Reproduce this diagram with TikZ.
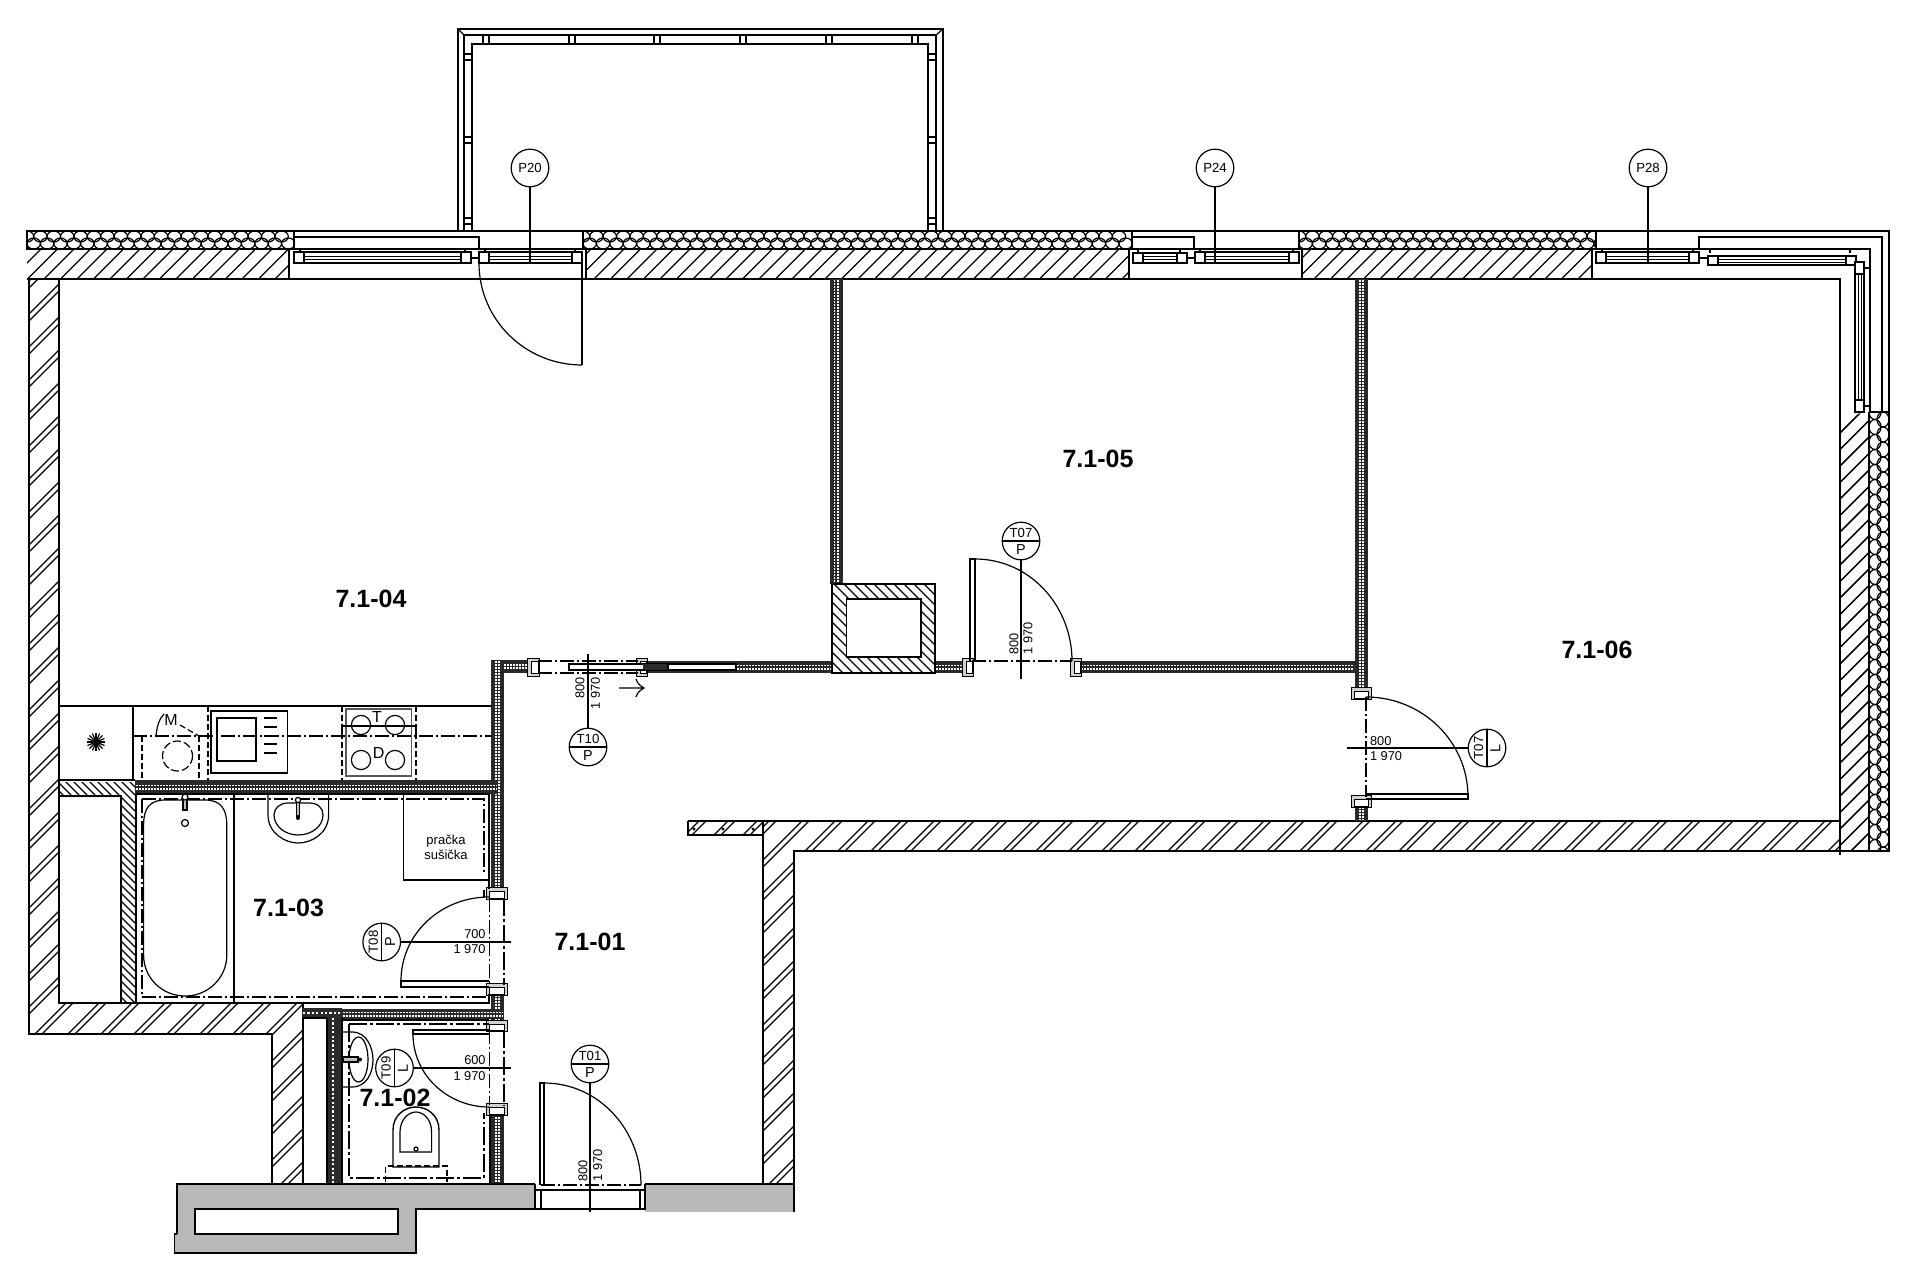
\documentclass[tikz,border=0pt]{standalone}
\usepackage{fontspec}
\setmainfont{Liberation Sans}
\definecolor{corr}{HTML}{B8B8B8}
\definecolor{band}{HTML}{2A2A2A}
\tikzset{
 wl/.style={line width=0.9pt,black},
 ml/.style={line width=0.7pt,black},
 tl/.style={line width=0.6pt,black},
 hl/.style={line width=0.6pt,black},
 dd/.style={line width=0.55pt,black,dash pattern=on 7pt off 1.5pt on 1pt off 1.5pt},
 ddk/.style={line width=0.7pt,black,dash pattern=on 9pt off 1.5pt on 1.4pt off 1.5pt},
 dsh/.style={line width=0.6pt,black,dash pattern=on 3pt off 1.5pt},
 roomlabel/.style={font=\bfseries\fontsize{12.5}{14}\selectfont,inner sep=0pt},
 small/.style={font=\fontsize{6.4}{7.5}\selectfont,inner sep=0pt},
 tagc/.style={circle,draw,line width=0.6pt,minimum size=18.8pt,inner sep=0pt,fill=white,font=\fontsize{6.6}{7}\selectfont},
 letter/.style={font=\fontsize{7.2}{8}\selectfont,inner sep=0pt},
}
% hatch "/" : clip path, first c, last c, period, gap (0 = single)
\newcommand\hatchF[5]{\begin{scope}\clip #1;\pgfmathsetmacro\hB{#2+#4}
 \foreach \c in {#2,\hB,...,#3}{\draw[hl] (\c,0)--(\c-1300,1300);\draw[hl] (\c+#5,0)--(\c+#5-1300,1300);}\end{scope}}
% hatch "\"
\newcommand\hatchB[4]{\begin{scope}\clip #1;\pgfmathsetmacro\hB{#2+#4}
 \foreach \c in {#2,\hB,...,#3}{\draw[hl] (\c,0)--(\c+1300,1300);}\end{scope}}
% insulation, horizontal band
\newcommand\insH[4]{\begin{scope}\clip (#1,#3) rectangle (#2,#4);\fill[white] (#1,#3) rectangle (#2,#4);
 \pgfmathsetmacro\hq{(#4-#3)/4}\pgfmathsetmacro\xB{#1+13.4}
 \foreach \x in {#1,\xB,...,#2}{\draw[line width=0.6pt] (\x,#3+\hq+1) ellipse [x radius=6.7,y radius=\hq+1];
 \draw[line width=0.6pt] (\x+6.7,#4-\hq-1) ellipse [x radius=6.7,y radius=\hq+1];}\end{scope}
 \draw[tl] (#1,#3) rectangle (#2,#4);}
% insulation, vertical band
\newcommand\insV[4]{\begin{scope}\clip (#1,#3) rectangle (#2,#4);\fill[white] (#1,#3) rectangle (#2,#4);
 \pgfmathsetmacro\hq{(#2-#1)/4}\pgfmathsetmacro\yB{#3+15}
 \foreach \y in {#3,\yB,...,#4}{\draw[line width=0.6pt] (#1+\hq+1,\y) ellipse [y radius=7.5,x radius=\hq+1];
 \draw[line width=0.6pt] (#2-\hq-1,\y+7.5) ellipse [y radius=7.5,x radius=\hq+1];}\end{scope}
 \draw[wl] (#1,#3)--(#1,#4) (#2,#3)--(#2,#4);}
% dark partition bands
\newcommand\bandH[4]{\fill[band] (#1,#3) rectangle (#2,#4);
 \pgfmathsetmacro\ym{(#3+#4)/2}
 \draw[white,line width=0.8pt,dash pattern=on 0.8pt off 0.7pt] (#1+1,\ym-1.7)--(#2-1,\ym-1.7);
 \draw[white,line width=0.8pt,dash pattern=on 0.8pt off 0.7pt] (#1+1,\ym+1.7)--(#2-1,\ym+1.7);}
\newcommand\bandV[4]{\fill[band] (#1,#3) rectangle (#2,#4);
 \pgfmathsetmacro\xm{(#1+#2)/2}
 \draw[white,line width=0.8pt,dash pattern=on 0.8pt off 0.7pt] (\xm-1.7,#3+1)--(\xm-1.7,#4-1);
 \draw[white,line width=0.8pt,dash pattern=on 0.8pt off 0.7pt] (\xm+1.7,#3+1)--(\xm+1.7,#4-1);}
% door jambs: on a horizontal wall (x1,x2,y1,y2) and on a vertical wall
\newcommand\jambH[4]{\draw[line width=0.4pt,fill=gray!35] (#1-2,#3-3) rectangle (#2+1,#4+3);\draw[line width=0.4pt,fill=white] (#1+2,#3) rectangle (#2,#4);}
\newcommand\jambV[4]{\draw[line width=0.4pt,fill=gray!35] (#1-3,#3-2) rectangle (#2+3,#4+1);\draw[line width=0.4pt,fill=white] (#1,#3+2) rectangle (#2,#4);}
% window (x1,x2,y1,y2)
\newcommand\winH[4]{\pgfmathsetmacro\ym{(#3+#4)/2}\draw[tl,fill=white] (#1,#3) rectangle (#2,#4);
 \draw[line width=0.45pt] (#1,\ym-1.5)--(#2,\ym-1.5) (#1,\ym+1.5)--(#2,\ym+1.5);
 \draw[tl,fill=white] (#1,#3) rectangle (#1+10,#4);\draw[tl,fill=white] (#2-10,#3) rectangle (#2,#4);}
\newcommand\tagH[5]{\node[tagc] (#1) at (#2,#3) {};\draw[tl] (#1.west)--(#1.east);
 \node[letter,font=\fontsize{6.6}{7}\selectfont] at (#2,#3-8.5) {#4};\node[letter] at (#2,#3+9) {#5};}
\newcommand\tagV[5]{\node[tagc] (#1) at (#2,#3) {};\draw[tl] (#1.north)--(#1.south);
 \node[letter,font=\fontsize{6.6}{7}\selectfont,rotate=90] at (#2-8.5,#3) {#4};\node[letter,rotate=90] at (#2+8.5,#3) {#5};}
\begin{document}
\begin{tikzpicture}[x=0.5pt,y=-0.5pt]
\useasboundingbox (0,0) rectangle (1920,1278);
\fill[white] (0,0) rectangle (1920,1278);

% ---------- balcony
\draw[wl] (458,231)--(458,29)--(943,29)--(943,231);
\draw[wl] (464,231)--(464,35)--(936,35)--(936,231);
\draw[wl] (472,231)--(472,44)--(928,44)--(928,231);
\draw[tl] (458,29)--(464,35) (943,29)--(936,35);
\foreach \x in {483,569,654,740,826,912}{\draw[tl] (\x,35)--(\x,44) (\x+6,35)--(\x+6,44);}
\foreach \y in {54,137,218}{\draw[tl] (464,\y)--(472,\y) (464,\y+6)--(472,\y+6) (928,\y)--(936,\y) (928,\y+6)--(936,\y+6);}

% ---------- outer masonry hatch
\hatchF{(27,249) rectangle (289,279)}{290}{600}{33}{16.5}
\hatchF{(586,249) rectangle (1129,279)}{840}{1420}{33}{16.5}
\hatchF{(1302,249) rectangle (1592,279)}{1560}{1880}{33}{16.5}
\hatchF{(29,279)--(59,279)--(59,1003)--(303,1003)--(303,1184)--(272,1184)--(272,1034)--(29,1034)--cycle}{310}{1490}{33}{7}
\hatchF{(763,821)--(1840,821)--(1840,851)--(794,851)--(794,1184)--(763,1184)--cycle}{1590}{2700}{33}{7}
\hatchF{(688,821) rectangle (763,835)}{1520}{1590}{29}{7}
\hatchF{(1840,417)--(1869,412)--(1869,851)--(1840,851)--cycle}{2240}{2730}{16.5}{0}
\foreach \x in {694,723,753}{\fill (\x,829) circle [radius=1.6];}

% insulation
\insH{27}{294}{231}{249}
\insH{583}{1132}{231}{249}
\insH{1299}{1596}{231}{249}
\insV{1869}{1889}{412}{851}

% wall outlines
\draw[wl] (27,231)--(1889,231)--(1889,851)--(794,851)--(794,1184);
\draw[wl] (27,279)--(1840,279)--(1840,855);
\draw[wl] (27,249)--(294,249) (583,249)--(1132,249) (1299,249)--(1596,249);
\draw[tl] (1596,249)--(1870,249)--(1870,412) (1133,237)--(1194,237)--(1194,249) (294,237)--(479,237)--(479,249);
\draw[wl] (1699,249)--(1699,237)--(1882,237)--(1882,412);
\draw[wl] (1869,412)--(1889,412);
\draw[tl] (289,249)--(289,279) (586,249)--(586,279) (1129,249)--(1129,279) (1302,249)--(1302,279) (1592,249)--(1592,279);
\draw[tl] (294,249)--(582,249) (1133,249)--(1299,249);
\draw[wl] (29,279)--(29,1034)--(272,1034)--(272,1184);
\draw[wl] (59,279)--(59,1003)--(303,1003)--(303,1184);
\draw[wl] (688,821)--(1840,821) (688,821)--(688,835)--(763,835);
\draw[wl] (763,821)--(763,1184);

% ---------- windows
\foreach \x in {300,465,485,575,1138,1180,1200,1293,1602,1693,1710,1850}{\draw[tl] (\x,249)--(\x,253);}
\winH{294}{471}{252}{263}
\winH{479}{582}{252}{263}
\winH{1133}{1187}{253}{263}
\winH{1195}{1299}{252}{263}
\winH{1596}{1699}{252}{263}
\winH{1708}{1856}{256}{265}
\draw[tl] (471,258)--(479,258) (1187,258)--(1195,258) (1699,258)--(1708,258);
% vertical corner window
\draw[tl,fill=white] (1855,265) rectangle (1864,412);
\draw[line width=0.45pt] (1858.5,265)--(1858.5,412) (1861,265)--(1861,412);
\draw[tl,fill=white] (1855,262) rectangle (1864,274);
\draw[tl,fill=white] (1855,400) rectangle (1864,412);
\draw[tl] (1864,268)--(1870,268) (1864,406)--(1870,406);

% door to balcony P20
\draw[dd] (479,279)--(582,279);
\draw[tl] (582,263)--(582,365);
\draw[tl] (479,263) to[out=-90,in=180] (582,365);

% ---------- interior partitions
\bandV{830}{842.5}{279}{584}
\bandV{1355}{1368}{279}{690}
\bandH{491}{532}{660}{673}
\bandV{491}{504}{660}{890}
\bandH{643}{832}{661}{673}
\bandH{935}{963}{661}{673}
\bandH{1080}{1355}{661}{673}
\bandV{1355}{1368}{806}{821}
\bandH{135}{498}{780}{794}
\bandV{491}{504}{994}{1023}
\bandV{491}{504}{1113}{1184}
\bandH{342}{504}{1009}{1019}
\draw[ml] (342,1003)--(489,1003);
% coarse insulation in the WC wall
\fill[band] (302,1008) rectangle (342,1018);
\draw[white,line width=1.3pt,dash pattern=on 1.1pt off 1.1pt] (303,1013)--(342,1013);
\fill[band] (327,1018) rectangle (342,1184);
\draw[white,line width=1.3pt,dash pattern=on 1.1pt off 1.1pt] (333,1018)--(333,1184);
\draw[wl] (302,1018)--(327,1018) (327,1018)--(327,1184);
\draw[wl] (342,1018)--(342,1184);

% chimney
\begin{scope}[even odd rule]
\hatchB{(832,584) rectangle (935,673) (846.5,599) rectangle (921,657)}{150}{360}{10}
\end{scope}
\draw[wl] (832,584) rectangle (935,673);
\draw[tl] (846.5,599) rectangle (921,657);

% jambs
\jambH{529}{538}{661}{673}
\jambH{638}{646}{661}{673}
\jambH{964}{972}{661}{673}
\jambH{1072}{1080}{661}{673}
\jambV{1354}{1368}{689}{698}
\jambV{1354}{1368}{797}{806}
\jambV{489}{504}{889}{898}
\jambV{489}{504}{985}{994}
\jambV{489}{504}{1022}{1030}
\jambV{489}{504}{1105}{1114}

% T10 sliding door
\draw[dd] (538,661)--(638,661) (538,673)--(638,673);
\draw[tl,fill=white] (569,664) rectangle (668,670);
\fill[band] (643,664) rectangle (668,670);
\draw[tl,fill=white] (668,664) rectangle (736,670);
\draw[tl] (619,688)--(644,688) (636,679) .. controls (638,684) .. (644,688) .. controls (638,692) .. (636,697);

% T07 P door
\draw[dd] (972,661)--(1072,661);
\draw[tl] (970,661)--(970,559)--(975,559)--(975,661);
\draw[tl] (975,559) to[out=0,in=90] (1072,661);

% T07 L door
\draw[dd] (1366,697)--(1366,797);
\draw[tl] (1366,794)--(1468,794)--(1468,799)--(1366,799);
\draw[tl] (1366,697) to[out=0,in=90] (1468,797);

% T08 door
\draw[dd] (489.5,898)--(489.5,985);
\draw[ddk] (504,898)--(504,985);
\draw[tl] (489,981)--(401,981)--(401,987)--(489,987);
\draw[tl] (401,981) to[out=90,in=180] (489,897);

% T09 door
\draw[dd] (489.5,1030)--(489.5,1105);
\draw[ddk] (504,1030)--(504,1105);
\draw[tl] (489,1030)--(413,1030)--(413,1034)--(489,1034);
\draw[tl] (413,1034) to[out=-90,in=180] (489,1107);

% ---------- kitchen
\draw[ml] (59,706)--(492,706);
\draw[ml] (133,706)--(133,780);
\draw[ml] (59,780)--(135,780);
\foreach \a in {0,22.5,...,337.5}{\draw[tl] (96,742)--++(\a:4.6pt);}
\draw[dd] (133,736)--(492,736);
\draw[dsh] (142,736)--(142,780) (199,736)--(199,780) (208,706)--(208,780) (342,706)--(342,780) (416,706)--(416,780);
\draw[tl] (156,736) .. controls (157,725) and (160,718) .. (164,714);
\draw[dsh] (180,725)--(199,736);
\draw[tl,dash pattern=on 4pt off 1.5pt] (177.5,756) circle [radius=15];
\node[letter,font=\fontsize{8}{9}\selectfont] at (171,720) {M};
\draw[ml] (211,711) rectangle (287.5,773);
\draw[ml] (217,718) rectangle (256,761);
\foreach \y in {718,727,736,744,753}{\draw[tl] (264,\y)--(277,\y);}
\draw[line width=0.9pt,gray!70!black] (346,709) rectangle (411.5,776);
\draw[tl] (342,736)--(342,726)--(416,726)--(416,736);
\foreach \x/\y in {361/725,395/725,361/760,395/760}{\draw[tl] (\x,\y) circle [radius=9.6];}
\node[letter,font=\fontsize{8}{9}\selectfont] at (377,717) {T};
\node[letter,font=\fontsize{8}{9}\selectfont] at (378.6,753) {D};

% ---------- storage + bath wall
\hatchB{(59,782)--(135,782)--(136,1003)--(121,1003)--(121,796)--(59,796)--cycle}{-900}{-640}{8}
\draw[ml] (59,796)--(121,796)--(121,1003);
\draw[ml] (136,794)--(136,1003);

% ---------- bathroom
\draw[ml] (136,794)--(489,794)--(489,889);
\draw[ml] (136,1003)--(489,1003)--(489,994);
\draw[ml] (234,794)--(234,1003);
\draw[dd] (142,799)--(484,799)--(484,875) (484,890)--(484,897) (142,799)--(142,997)--(487,997);
\draw[tl] (143.6,825) .. controls (143.6,808) and (150,800) .. (165,800)--(205,800)
  .. controls (220,800) and (226.8,808) .. (226.8,825)--(226.8,955)
  .. controls (226.8,978) and (208,996) .. (185.2,996)
  .. controls (162,996) and (143.6,978) .. (143.6,955)--cycle;
\draw[tl,fill=gray!50] (183,797) rectangle (187,810);
\draw[tl,fill=white] (185,797) circle [radius=3];
\draw[tl] (185,823) circle [radius=3.5];
\draw[tl] (268,794)--(268,815) .. controls (268,833) and (285,843) .. (298,843) .. controls (312,843) and (328.6,833) .. (328.6,815)--(328.6,794);
\draw[tl] (274,815) .. controls (274,808) and (280,803) .. (288,803)--(309,803) .. controls (318,803) and (323,808) .. (323,815) .. controls (323,826) and (312,835) .. (298,835) .. controls (285,835) and (274,826) .. (274,815)--cycle;
\draw[tl,fill=gray!50] (296.5,800) rectangle (299.5,816);
\draw[tl,fill=white] (298,800) circle [radius=2.6];
\fill (298,818) circle [radius=2];
\draw[ml] (403.6,794)--(403.6,880)--(489,880);
\node[small,align=center,font=\fontsize{6.5}{7.4}\selectfont] at (446,847) {pračka\\sušička};

% ---------- WC
\draw[ml] (342,1020)--(489,1020);
\draw[ml] (490,1114)--(490,1184);
\draw[ddk] (349,1024)--(489,1024) (349,1024)--(349,1178)--(484,1178)--(484,1113);
\draw[tl] (343,1032)--(352,1032) .. controls (367,1032) and (373,1048) .. (373,1060) .. controls (373,1072) and (367,1087) .. (352,1087)--(343,1087);
\draw[tl] (358.5,1059.5) ellipse [x radius=9.5,y radius=22.5];
\draw[tl,fill=gray!50] (343,1057) rectangle (358,1062);
\fill (360,1059.5) circle [radius=2];
\draw[ml] (393,1167)--(393,1130) .. controls (393,1115) and (405,1107) .. (416,1107) .. controls (427,1107) and (439,1115) .. (439,1130)--(439,1167)--cycle;
\draw[tl] (400,1152)--(400,1132) .. controls (400,1120) and (408,1112) .. (416,1112) .. controls (424,1112) and (431.6,1120) .. (431.6,1132)--(431.6,1152)--cycle;
\draw[tl] (416,1149) circle [radius=2];
\draw[dsh] (385.6,1182)--(385.6,1166)--(447,1166)--(447,1182);

% ---------- common corridor
\path[fill=corr] (177,1184)--(535,1184)--(535,1209)--(416,1209)--(416,1253)--(174.5,1253)--(174.5,1234)--(177,1234)--cycle;
\fill[white] (195,1209) rectangle (398,1234);
\draw[wl] (177,1234)--(177,1184)--(535,1184);
\draw[wl] (177,1234)--(174.5,1234)--(174.5,1253)--(416,1253)--(416,1209)--(535,1209);
\draw[wl] (195,1209) rectangle (398,1234);
\fill[corr] (645,1184) rectangle (794,1212);
\draw[wl] (645,1184)--(794,1184);
\draw[tl] (794,1184)--(794,1212);
% threshold
\draw[tl] (535,1184)--(535,1210) (541,1190)--(541,1210) (640,1190)--(640,1210) (645,1184)--(645,1210);
\draw[tl] (535,1190)--(645,1190) (535,1209)--(645,1209);

% T01 door
\draw[dd] (541,1185)--(641,1185);
\draw[tl] (540,1185)--(540,1083)--(544,1083)--(544,1185);
\draw[tl] (544,1083) to[out=0,in=90] (641,1185);

% ---------- tags and stems
\node[tagc] (p20) at (530,168) {P20};
\node[tagc] (p24) at (1215,168) {P24};
\node[tagc] (p28) at (1648,168) {P28};
\coordinate (p20e) at (530,263);
\coordinate (p24e) at (1215,263);
\coordinate (p28e) at (1648,263);
\draw[tl] (p20)--(p20e) (p24)--(p24e) (p28)--(p28e);

\tagH{t10}{588}{747}{T10}{P}
\coordinate (t10e) at (588,654);
\draw[tl] (t10)--(t10e);
\node[small,rotate=90,anchor=east] at (580,677) {800};
\node[small,rotate=90,anchor=east] at (595.5,677) {1 970};

\tagH{t07p}{1021}{541}{T07}{P}
\coordinate (t07pe) at (1021,679);
\draw[tl] (t07p)--(t07pe);
\node[small,rotate=90,anchor=west] at (1014,655) {800};
\node[small,rotate=90,anchor=west] at (1028,655) {1 970};

\tagV{t07l}{1487}{748}{T07}{L}
\coordinate (t07le) at (1347,748);
\draw[tl] (t07l)--(t07le);
\node[small,anchor=west] at (1369.6,741) {800};
\node[small,anchor=west] at (1369.6,755.6) {1 970};

\tagV{t08}{381.7}{942}{T08}{P}
\coordinate (t08e) at (510.7,942);
\draw[tl] (t08)--(t08e);
\node[small,anchor=east] at (486,934) {700};
\node[small,anchor=east] at (486,948.7) {1 970};

\tagV{t09}{394.5}{1068}{T09}{L}
\coordinate (t09e) at (510.7,1068);
\draw[tl] (t09)--(t09e);
\node[small,anchor=east] at (486,1060) {600};
\node[small,anchor=east] at (486,1075.7) {1 970};

\tagH{t01}{590}{1064}{T01}{P}
\coordinate (t01e) at (590,1212);
\draw[tl] (t01)--(t01e);
\node[small,rotate=90,anchor=west] at (583,1182) {800};
\node[small,rotate=90,anchor=west] at (597.7,1182) {1 970};

% ---------- room labels
\node[roomlabel] (r01) at (590,942) {7.1-01};
\node[roomlabel] (r02) at (395,1098) {7.1-02};
\node[roomlabel] (r03) at (288.6,908) {7.1-03};
\node[roomlabel] (r04) at (371,599) {7.1-04};
\node[roomlabel] (r05) at (1098,459) {7.1-05};
\node[roomlabel] (r06) at (1597,650) {7.1-06};
\end{tikzpicture}
\end{document}
